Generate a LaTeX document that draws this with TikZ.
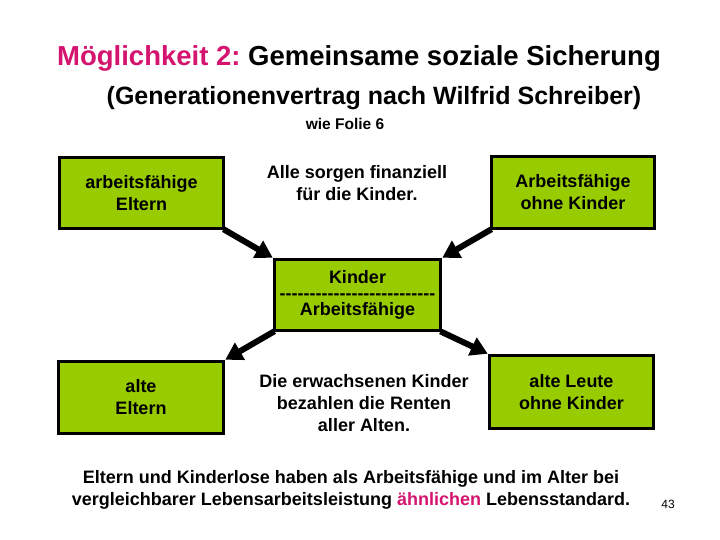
\documentclass[tikz,border=0pt]{standalone}
\usepackage{fontspec}
\newfontfamily\arial{Liberation Sans}
\usetikzlibrary{arrows.meta}
\definecolor{boxgreen}{HTML}{99CC00}
\definecolor{mag}{HTML}{D4146E}
\tikzset{
  greenbox/.style={draw=black, line width=3.5pt, fill=boxgreen, inner sep=0pt,
    align=center, font=\arial\bfseries\fontsize{18}{22}\selectfont},
  plain/.style={align=center, inner sep=0pt, font=\arial\bfseries\fontsize{18}{22}\selectfont},
  bigarrow/.style={line width=6pt, -{Triangle[length=17pt,width=19pt]}, shorten <=-2pt},
}
\begin{document}
\begin{tikzpicture}[x=1pt,y=-1pt]
\useasboundingbox[fill=white] (0,0) rectangle (720,540);
% titles
\node[inner sep=0pt, font=\arial\bfseries\fontsize{27.5}{32}\selectfont] (title) at (359,58)
  {\textcolor{mag}{Möglichkeit 2:}~Gemeinsame soziale Sicherung};
\node[inner sep=0pt, font=\arial\bfseries\fontsize{25}{30}\selectfont] (sub) at (374,98)
  {(Generationenvertrag nach Wilfrid Schreiber)};
\node[inner sep=0pt, font=\arial\bfseries\fontsize{15.5}{18}\selectfont] (folie) at (345,124)
  {wie Folie 6};
% boxes
\node[greenbox, minimum width=164pt, minimum height=71pt] (ae) at (141.5,193) {arbeitsfähige\\Eltern};
\node[greenbox, minimum width=163pt, minimum height=72pt] (aok) at (573,192.5) {Arbeitsfähige\\ohne Kinder};
\node[greenbox, minimum width=166pt, minimum height=71pt] (mid) at (357.5,295)
  {Kinder\\[-6pt]--------------------------\\[-6pt]Arbeitsfähige};
\node[greenbox, minimum width=165pt, minimum height=72pt] (alt) at (141,397.5) {alte\\Eltern};
\node[greenbox, minimum width=164pt, minimum height=73pt] (alk) at (571.5,392) {alte Leute\\ohne Kinder};
% middle texts
\node[plain] (sorgen) at (357,183) {Alle sorgen finanziell\\für die Kinder.};
\node[plain] (zahlen) at (364,403) {Die erwachsenen Kinder\\bezahlen die Renten\\aller Alten.};
% arrows
\draw[bigarrow] (ae.south east) -- (mid.north west);
\draw[bigarrow] (aok.south west) -- (mid.north east);
\draw[bigarrow] (mid.south west) -- (alt.north east);
\draw[bigarrow] (mid.south east) -- (alk.north west);
% bottom
\node[plain] (bottom) at (351,489.5) {Eltern und Kinderlose haben als Arbeitsfähige und im Alter bei\\vergleichbarer Lebensarbeitsleistung \textcolor{mag}{ähnlichen} Lebensstandard.};
\node[inner sep=0pt, font=\arial\fontsize{12}{14}\selectfont] (page) at (668,504) {43};
\end{tikzpicture}
\end{document}
